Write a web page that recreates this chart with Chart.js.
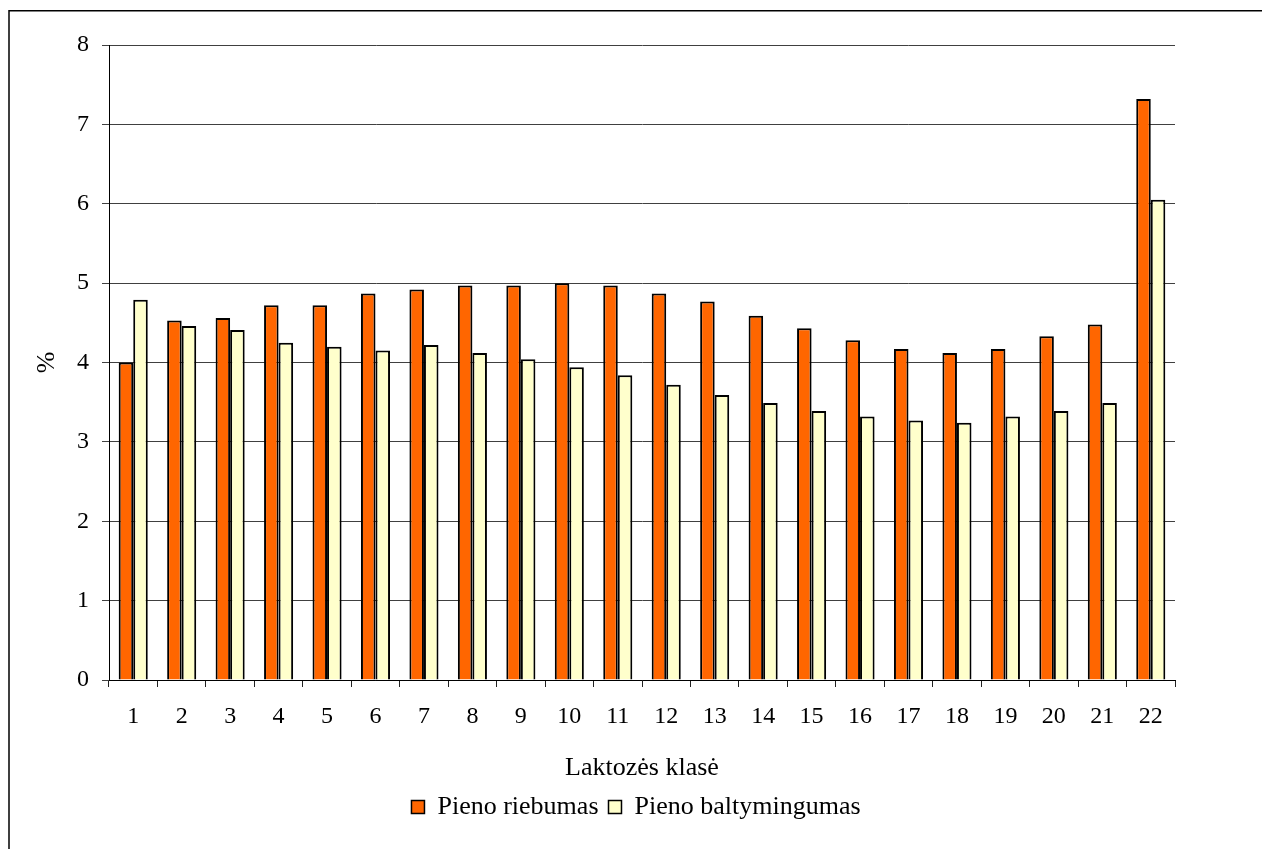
<!DOCTYPE html>
<html>
<head>
<meta charset="utf-8">
<script src="https://cdn.jsdelivr.net/npm/chart.js@4.4.0/dist/chart.umd.min.js"></script>
<style>
  html, body { margin: 0; padding: 0; background: #fff; }
  #wrap { width: 1262px; height: 849px; position: relative; }
</style>
</head>
<body>
<div id="wrap"><canvas id="c" width="1262" height="849"></canvas></div>
<script>
const categories = ['1','2','3','4','5','6','7','8','9','10','11','12','13','14','15','16','17','18','19','20','21','22'];
const riebumas = [4.00, 4.53, 4.56, 4.72, 4.72, 4.87, 4.92, 4.97, 4.97, 5.00, 4.97, 4.87, 4.77, 4.59, 4.43, 4.28, 4.17, 4.12, 4.17, 4.33, 4.48, 7.32];
const baltymingumas = [4.79, 4.46, 4.41, 4.25, 4.20, 4.15, 4.22, 4.12, 4.04, 3.94, 3.84, 3.72, 3.59, 3.49, 3.39, 3.32, 3.27, 3.24, 3.32, 3.39, 3.49, 6.05];
const seriesNames = ['Pieno riebumas', 'Pieno baltymingumas'];
const xTitle = 'Laktozės klasė';
const yTitle = '%';

const FONT = 'Liberation Serif';

const framePlugin = {
  id: 'frame',
  afterDraw(chart) {
    const ctx = chart.ctx;
    ctx.save();
    ctx.strokeStyle = '#000';
    ctx.lineWidth = 1.5;
    ctx.beginPath();
    ctx.moveTo(9, 900);
    ctx.lineTo(9, 10.75);
    ctx.lineTo(1300, 10.75);
    ctx.stroke();
    ctx.restore();
  }
};

new Chart(document.getElementById('c'), {
  type: 'bar',
  data: {
    labels: categories,
    datasets: [
      { label: seriesNames[0], data: riebumas, backgroundColor: '#FF6600', borderColor: '#000', borderWidth: 2 },
      { label: seriesNames[1], data: baltymingumas, backgroundColor: '#FFFFCC', borderColor: '#000', borderWidth: 2 }
    ]
  },
  options: {
    responsive: false,
    animation: false,
    devicePixelRatio: 1,
    layout: { padding: { left: 10, right: 0, top: 45, bottom: 19 } },
    datasets: { bar: { categoryPercentage: 0.6, barPercentage: 1.0 } },
    plugins: {
      legend: {
        position: 'bottom',
        labels: {
          font: { family: FONT, size: 26 },
          color: '#000',
          boxWidth: 13,
          boxHeight: 13,
          padding: 10,
          generateLabels(chart) {
            return chart.data.datasets.map((ds, i) => ({
              text: ds.label,
              fillStyle: ds.backgroundColor,
              strokeStyle: '#000',
              lineWidth: 1.5,
              datasetIndex: i,
              fontColor: '#000'
            }));
          }
        }
      },
      tooltip: { enabled: false }
    },
    scales: {
      x: {
        grid: { drawOnChartArea: false, drawTicks: true, tickLength: 7, offset: true, color: '#222' },
        border: { display: true, color: '#000', width: 1 },
        ticks: { font: { family: FONT, size: 24 }, color: '#000', padding: 15, maxRotation: 0 },
        title: { display: true, text: xTitle, font: { family: FONT, size: 26 }, color: '#000', padding: { top: 0, bottom: 0 } },
        afterFit(scale) { scale.height = 104; }
      },
      y: {
        min: 0, max: 8,
        ticks: { stepSize: 1, font: { family: FONT, size: 24 }, color: '#000', padding: 13 },
        grid: { color: '#404040', tickLength: 7, drawTicks: true },
        border: { display: true, color: '#000', width: 1 },
        title: { display: true, text: yTitle, font: { family: FONT, size: 26 }, color: '#000', padding: { top: 22, bottom: 0 } },
        afterFit(scale) { scale.width = 99; }
      },
      y2: {
        position: 'right',
        min: 0, max: 8,
        display: true,
        ticks: { display: false },
        grid: { display: false, drawTicks: false },
        border: { display: false },
        afterFit(scale) { scale.width = 87; }
      }
    }
  },
  plugins: [framePlugin]
});
</script>
</body>
</html>
